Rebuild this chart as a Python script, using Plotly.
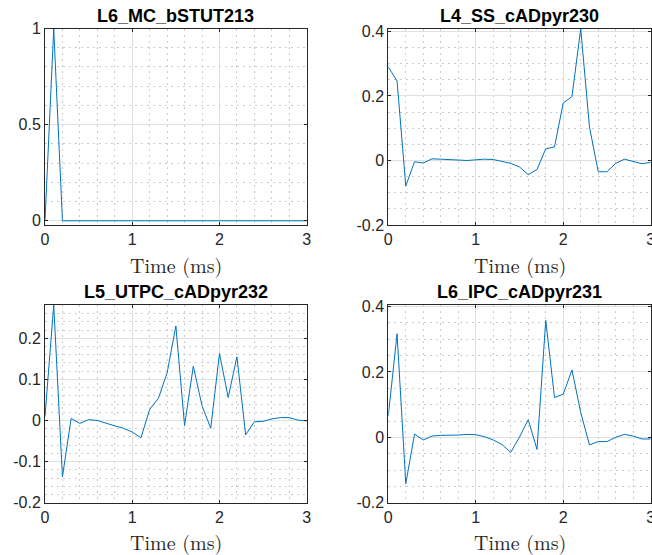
import plotly.graph_objects as go

time_ms = [round(i * 0.1, 1) for i in range(31)]

titles = ["L6_MC_bSTUT213", "L4_SS_cADpyr230", "L5_UTPC_cADpyr232", "L6_IPC_cADpyr231"]

v_mc = [0, 1] + [0] * 29

v_ss = [0.29, 0.246, -0.079, -0.004, -0.008, 0.005, 0.004, 0.002, 0.0, 0.0,
        0.002, 0.004, 0.003, -0.002, -0.009, -0.02, -0.044, -0.028, 0.036, 0.042,
        0.178, 0.198, 0.408, 0.104, -0.035, -0.035, -0.009, 0.004, -0.003, -0.010,
        -0.006]

v_utpc = [0.01, 0.281, -0.137, 0.005, -0.007, 0.002, 0.0, -0.007, -0.013, -0.019,
          -0.028, -0.042, 0.027, 0.054, 0.116, 0.230, -0.012, 0.132, 0.036, -0.019,
          0.163, 0.056, 0.155, -0.035, -0.003, -0.002, 0.004, 0.007, 0.007, 0.001,
          -0.001]

v_ipc = [0.066, 0.317, -0.142, 0.010, -0.008, 0.004, 0.006, 0.006, 0.007, 0.009,
         0.008, 0.002, -0.008, -0.022, -0.046, 0.001, 0.054, -0.037, 0.358, 0.122,
         0.132, 0.206, 0.076, -0.023, -0.013, -0.013, 0.0, 0.009, 0.004, -0.005,
         -0.005]

series = [v_mc, v_ss, v_utpc, v_ipc]
y_ranges = [[-0.022, 1.0], [-0.2, 0.409], [-0.2, 0.281], [-0.2, 0.405]]
y_ticks = [[0, 0.5, 1], [-0.2, 0, 0.2, 0.4], [-0.2, -0.1, 0, 0.1, 0.2], [-0.2, 0, 0.2, 0.4]]
y_minor = [0.1, 0.05, 0.02, 0.05]
x_ticks = [0, 1, 2, 3]

W, H = 652, 555
xdoms = [[45 / W, 306.7 / W], [388.3 / W, 650.7 / W]]
ydoms = [[1 - 225 / H, 1 - 28.5 / H], [1 - 502.7 / H, 1 - 305 / H]]

AX = "#262626"
GRID = "#e0e0e0"
MGRID = "#cccccc"
SANS = "Liberation Sans, Arial, Helvetica, sans-serif"
tickfont = dict(family=SANS, size=16, color=AX)

fig = go.Figure()
annotations = []
for i in range(4):
    r, c = divmod(i, 2)
    n = "" if i == 0 else str(i + 1)
    fig.add_trace(go.Scatter(
        x=time_ms, y=series[i], mode="lines",
        line=dict(color="#0072BD", width=1),
        xaxis="x" + n, yaxis="y" + n, showlegend=False,
    ))
    common = dict(showline=True, linecolor=AX, linewidth=1, mirror="ticks",
                  ticks="inside", ticklen=3, tickcolor=AX, tickwidth=1,
                  showgrid=True, gridcolor=GRID, gridwidth=1, zeroline=False,
                  tickfont=tickfont, automargin=False, ticklabeloverflow="allow")
    fig.update_layout(**{
        "xaxis" + n: dict(domain=xdoms[c], range=[0, 3], tickvals=x_ticks,
                          ticktext=[str(t) for t in x_ticks],
                          anchor="y" + n,
                          minor=dict(dtick=0.2, tick0=0, showgrid=True, griddash="2px,4px",
                                     gridcolor=MGRID, gridwidth=1, ticks=""),
                          **common),
        "yaxis" + n: dict(domain=ydoms[r], range=y_ranges[i], tickvals=y_ticks[i],
                          ticktext=[("%g" % t) for t in y_ticks[i]],
                          anchor="x" + n,
                          minor=dict(dtick=y_minor[i], tick0=0, showgrid=True, griddash="2px,4px",
                                     gridcolor=MGRID, gridwidth=1, ticks=""),
                          **common),
    })
    xc = (xdoms[c][0] + xdoms[c][1]) / 2
    annotations.append(dict(
        text="<b>" + titles[i] + "</b>", x=xc, xref="paper", xanchor="center",
        y=ydoms[r][1], yref="paper", yanchor="middle", yshift=13,
        showarrow=False,
        font=dict(family=SANS, size=18, color="#000000"),
    ))
    annotations.append(dict(
        text="Time (ms)", x=xc, xref="paper", xanchor="center",
        y=ydoms[r][0], yref="paper", yanchor="middle", yshift=-39,
        showarrow=False,
        font=dict(family="Latin Modern Roman, CMU Serif, Liberation Serif, DejaVu Serif, serif",
                  size=20, color=AX),
    ))

fig.update_layout(
    width=W, height=H,
    margin=dict(l=0, r=0, t=0, b=0, pad=0),
    paper_bgcolor="white", plot_bgcolor="white",
    annotations=annotations,
)

fig.write_html("out.html", config={"displayModeBar": False},
               post_script="document.body.style.margin='0px';")
